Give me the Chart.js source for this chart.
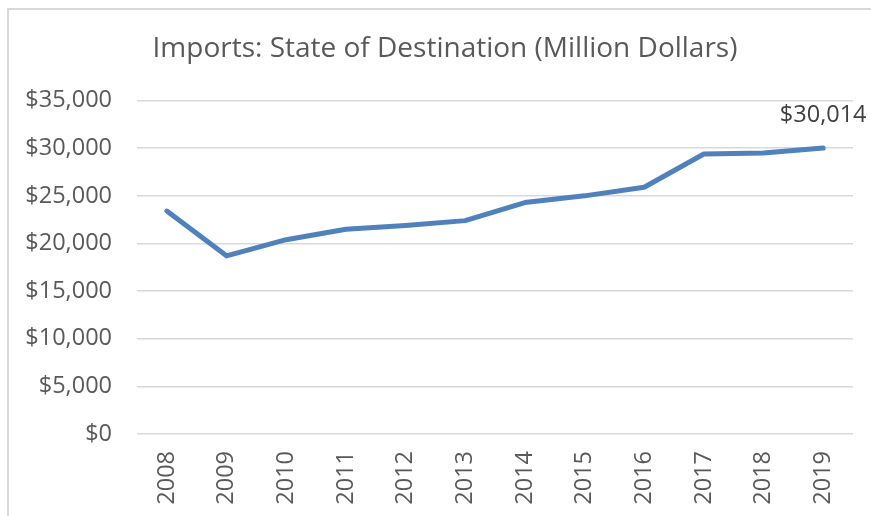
<!DOCTYPE html>
<html>
<head>
<meta charset="utf-8">
<title>Imports: State of Destination</title>
<script src="https://cdn.jsdelivr.net/npm/chart.js@4.4.1/dist/chart.umd.min.js"></script>
<style>
    html, body { margin: 0; padding: 0; background: #fff; overflow: hidden; }
    #frame {
        position: absolute; left: 7px; top: 8px; width: 900px; height: 540px;
        border-top: 2px solid #d9d9d9; border-left: 2px solid #d9d9d9;
    }
    #wrap { position: absolute; left: 0; top: 0; width: 871px; height: 516px; }
</style>
</head>
<body>
<div id="frame"></div>
<div id="wrap"><canvas id="importsChart" width="871" height="516"></canvas></div>
<script>
// Datos
const years = ['2008', '2009', '2010', '2011', '2012', '2013', '2014', '2015', '2016', '2017', '2018', '2019'];
const imports = [23400, 18700, 20400, 21500, 21900, 22400, 24300, 25000, 25900, 29400, 29500, 30014];
const yTicks = [0, 5000, 10000, 15000, 20000, 25000, 30000, 35000];

const fmt = v => '$' + v.toLocaleString('en-US');
const FONT = '"Open Sans"';

// etiqueta del ultimo punto
const lastLabel = {
    id: 'lastLabel',
    afterDatasetsDraw(chart) {
        const meta = chart.getDatasetMeta(0);
        const i = imports.length - 1;
        const pt = meta.data[i];
        const ctx = chart.ctx;
        ctx.save();
        ctx.font = '23.5px ' + FONT;
        ctx.fillStyle = '#404040';
        ctx.textAlign = 'center';
        ctx.textBaseline = 'middle';
        ctx.fillText(fmt(imports[i]), pt.x, pt.y - 33);
        ctx.restore();
    }
};

// centrar el titulo sobre el marco, no sobre el canvas
const titleShift = {
    id: 'titleShift',
    afterLayout(chart) {
        const t = chart.titleBlock;
        if (!t) return;
        t.left = 37;
        t.width = t.right - t.left;
    }
};

const ctx = document.getElementById('importsChart').getContext('2d');
new Chart(ctx, {
    type: 'line',
    data: {
        labels: years,
        datasets: [{
            data: imports,
            borderColor: '#4f81bd',
            borderWidth: 5,
            borderCapStyle: 'round',
            borderJoinStyle: 'round',
            pointRadius: 0,
            tension: 0,
            fill: false
        }]
    },
    options: {
        responsive: false,
        animation: false,
        layout: { padding: { left: 0, right: 18, top: 0, bottom: 0 } },
        plugins: {
            legend: { display: false },
            tooltip: { enabled: false },
            title: {
                display: true,
                text: 'Imports: State of Destination (Million Dollars)',
                color: '#595959',
                font: { family: FONT, size: 28, weight: 'normal', lineHeight: 1.2 },
                padding: { top: 32, bottom: 35 }
            }
        },
        scales: {
            x: {
                offset: true,
                grid: { display: false, drawTicks: false },
                border: { display: false },
                ticks: {
                    color: '#595959',
                    font: { family: FONT, size: 23.5 },
                    maxRotation: 90,
                    minRotation: 90,
                    padding: 17
                },
                afterFit(scale) { scale.height = 82; }
            },
            y: {
                min: 0,
                max: 35000,
                afterBuildTicks(scale) { scale.ticks = yTicks.map(v => ({ value: v })); },
                grid: { color: '#d9d9d9', lineWidth: 1.5, drawTicks: false },
                border: { display: false },
                ticks: {
                    color: '#595959',
                    font: { family: FONT, size: 23.5 },
                    padding: 25,
                    callback: v => fmt(v)
                },
                afterFit(scale) { scale.width = 137; }
            }
        }
    },
    plugins: [lastLabel, titleShift]
});
</script>
</body>
</html>
